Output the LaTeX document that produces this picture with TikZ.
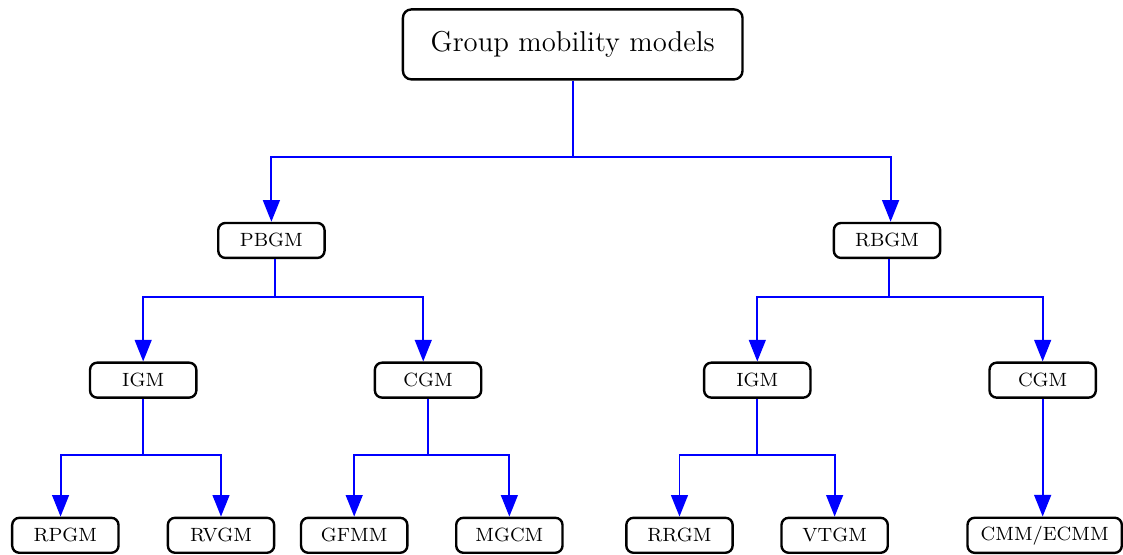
\documentclass[tikz,border=0pt]{standalone}
\usetikzlibrary{arrows.meta}
\begin{document}
\begin{tikzpicture}[x=0.41667pt,y=-0.41667pt,
  box/.style={draw=black, line width=1pt, rounded corners=3pt, fill=white,
    font=\footnotesize, minimum width=44.4pt, minimum height=14.6pt, inner xsep=5.5pt},
  rootbox/.style={box, font=\large, minimum width=141.8pt, minimum height=29.2pt,
    rounded corners=3.5pt},
  link/.style={draw=blue, line width=0.8pt},
  arrowlink/.style={link, -{Triangle[width=7pt,length=9pt]}}]

% canvas
\fill[white] (0,0) rectangle (1123,555);

% levels of the tree (y positions of the branching bars)
\coordinate (r1) at (0,157);
\coordinate (r2) at (0,298);
\coordinate (r3) at (0,456);

% nodes
\node[rootbox] (root) at (574,44.5) {Group mobility models};

\node[box] (pbgm) at (272,241) {PBGM};
\node[box] (rbgm) at (889,241) {RBGM};

\node[box] (igmA) at (143.5,381) {IGM};
\node[box] (cgmA) at (429,381) {CGM};
\node[box] (igmB) at (759,381) {IGM};
\node[box] (cgmB) at (1045,381) {CGM};

\node[box] (rpgm) at (65.5,536.5) {RPGM};
\node[box] (rvgm) at (221.5,536.5) {RVGM};
\node[box] (gfmm) at (355,536.5) {GFMM};
\node[box] (mgcm) at (510.5,536.5) {MGCM};
\node[box] (rrgm) at (681,536.5) {RRGM};
\node[box] (vtgm) at (836.5,536.5) {VTGM};
\node[box] (cmm)  at (1047,536.5) {CMM/ECMM};

% root branches
\draw[link] (root.south) -- (root.south |- r1);
\draw[arrowlink] (root.south |- r1) -| (pbgm.north);
\draw[arrowlink] (root.south |- r1) -| ([xshift=1.5pt]rbgm.north);

% PBGM branches
\draw[link] ([xshift=1.5pt]pbgm.south) -- ([xshift=1.5pt]pbgm.south |- r2);
\draw[arrowlink] ([xshift=1.5pt]pbgm.south |- r2) -| (igmA.north);
\draw[arrowlink] ([xshift=1.5pt]pbgm.south |- r2) -| ([xshift=-2pt]cgmA.north);

% RBGM branches
\draw[link] ([xshift=1pt]rbgm.south) -- ([xshift=1pt]rbgm.south |- r2);
\draw[arrowlink] ([xshift=1pt]rbgm.south |- r2) -| (igmB.north);
\draw[arrowlink] ([xshift=1pt]rbgm.south |- r2) -| (cgmB.north);

% IGM (left) branches
\draw[link] (igmA.south) -- (igmA.south |- r3);
\draw[arrowlink] (igmA.south |- r3) -| ([xshift=-2pt]rpgm.north);
\draw[arrowlink] (igmA.south |- r3) -| (rvgm.north);

% CGM (left) branches
\draw[link] (cgmA.south) -- (cgmA.south |- r3);
\draw[arrowlink] (cgmA.south |- r3) -| (gfmm.north);
\draw[arrowlink] (cgmA.south |- r3) -| (mgcm.north);

% IGM (right) branches
\draw[link] (igmB.south) -- (igmB.south |- r3);
\draw[arrowlink] (igmB.south |- r3) -| (rrgm.north);
\draw[arrowlink] (igmB.south |- r3) -| (vtgm.north);

% CGM (right) single child
\draw[arrowlink] (cgmB.south) -- (cgmB.south |- cmm.north);

\useasboundingbox (0,0) rectangle (1123,555);
\end{tikzpicture}
\end{document}
